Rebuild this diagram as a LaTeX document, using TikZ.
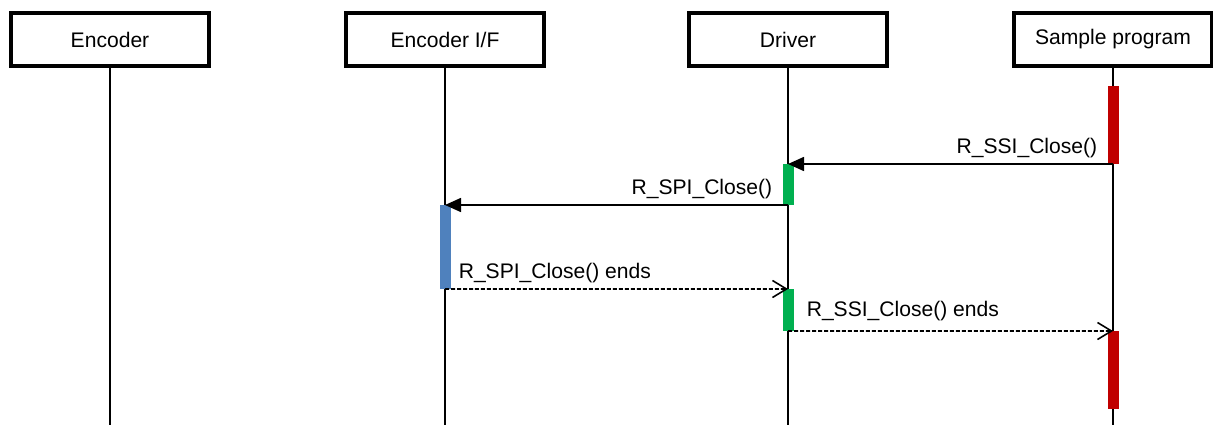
\documentclass[tikz,border=0pt]{standalone}
\usepackage{fontspec}
\setmainfont{Liberation Sans}
\usetikzlibrary{arrows.meta}
\definecolor{barred}{HTML}{C00000}
\definecolor{bargreen}{HTML}{00B050}
\definecolor{barblue}{HTML}{4F81BD}

\begin{document}
\begin{tikzpicture}[x=0.02cm, y=-0.02cm, font=\fontsize{12}{14}\selectfont,
  obj/.style={draw, line width=2.3pt, minimum width=3.96cm, minimum height=1.06cm, inner sep=0pt},
  life/.style={line width=0.9pt},
  act/.style={minimum width=0.22cm, inner sep=0pt, outer sep=0pt},
  msg/.style={inner sep=0pt},
  call/.style={line width=0.9pt, -{Triangle[length=0.32cm, width=0.28cm]}},
  reply/.style={line width=0.9pt, dash pattern=on 0.08cm off 0.04cm, -{Straight Barb[length=0.28cm, width=0.34cm]}}]
\useasboundingbox (0,0) rectangle (1213,425);
\coordinate (bot) at (0,425);
\node[obj] (enc) at (110,39.5) {Encoder};
\node[obj] (encif) at (445,39.5) {Encoder I/F};
\node[obj] (drv) at (788,39.5) {Driver};
\node[obj] (smp) at (1113,39.5) {Sample program};
\draw[life] (enc.south) -- (enc.south |- bot);
\draw[life] (encif.south) -- (encif.south |- bot);
\draw[life] (drv.south) -- (drv.south |- bot);
\draw[life] (smp.south) -- (smp.south |- bot);
\node[act, fill=barred, minimum height=1.56cm] (r1) at (1113,125) {};
\node[act, fill=bargreen, minimum height=0.82cm] (g1) at (788,184.5) {};
\node[act, fill=barblue, minimum height=1.68cm] (b1) at (445,247) {};
\node[act, fill=bargreen, minimum height=0.84cm] (g2) at (788,310) {};
\node[act, fill=barred, minimum height=1.56cm] (r2) at (1113,370) {};
\draw[call] (r1.south) node[msg, anchor=base east, xshift=-0.3cm, yshift=0.21cm] (m1) {R\_SSI\_Close()} -- (g1.north);
\draw[call] (g1.south) node[msg, anchor=base east, xshift=-0.3cm, yshift=0.21cm] (m2) {R\_SPI\_Close()} -- (b1.north);
\draw[reply] (b1.south) node[msg, anchor=base west, xshift=0.26cm, yshift=0.2cm] (m3) {R\_SPI\_Close() ends} -- (g2.north);
\draw[reply] (g2.south) node[msg, anchor=base west, xshift=0.36cm, yshift=0.29cm] (m4) {R\_SSI\_Close() ends} -- (r2.north);
\end{tikzpicture}
\end{document}
